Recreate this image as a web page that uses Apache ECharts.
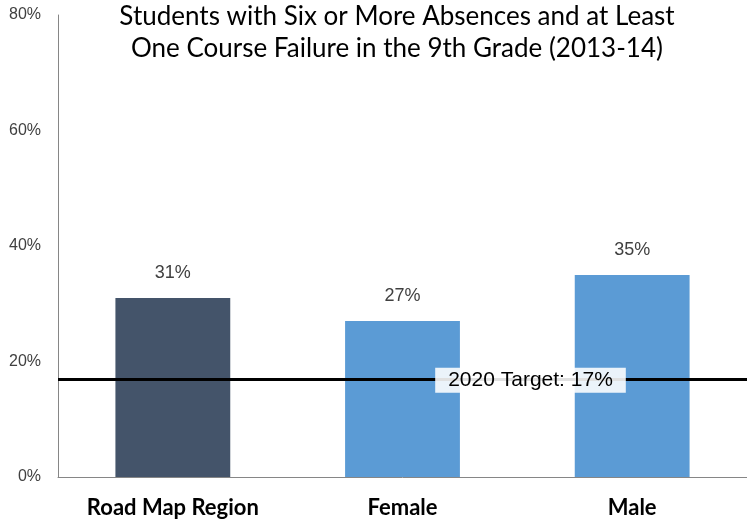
<!DOCTYPE html>
<html>
<head>
<meta charset="utf-8">
<script src="https://cdn.jsdelivr.net/npm/echarts@6/dist/echarts.min.js"></script>
<style>
  html, body { margin: 0; padding: 0; background: #fff; }
  #chart { width: 747px; height: 522px; }
</style>
</head>
<body>
<div id="chart"></div>
<script>
// Share of 9th graders with six or more absences and at least one failed course
const categories = ['Road Map Region', 'Female', 'Male'];
const values = [31, 27, 35];
const barColors = ['#44546A', '#5B9BD5', '#5B9BD5'];
const targetValue = 17;
const targetLabel = '2020 Target: ';
const yTicks = [0, 20, 40, 60, 80];

const chart = echarts.init(document.getElementById('chart'));

chart.setOption({
  animation: false,
  title: {
    text: 'Students with Six or More Absences and at Least\nOne Course Failure in the 9th Grade (2013-14)',
    left: 392,
    textAlign: 'center',
    top: -4,
    textStyle: {
      fontFamily: 'Lato',
      fontWeight: 'normal',
      fontSize: 26,
      lineHeight: 32,
      color: '#000'
    }
  },
  grid: { left: 58, right: 0, top: 15, bottom: 45 },
  xAxis: {
    type: 'category',
    data: categories,
    axisLine: { lineStyle: { color: '#868686', width: 1 } },
    axisTick: { show: false },
    axisLabel: {
      fontFamily: 'Lato',
      fontWeight: 'bold',
      fontSize: 22,
      color: '#000',
      margin: 20
    }
  },
  yAxis: {
    type: 'value',
    min: yTicks[0],
    max: yTicks[yTicks.length - 1],
    interval: yTicks[1] - yTicks[0],
    splitLine: { show: false },
    axisLine: { show: true, lineStyle: { color: '#868686', width: 1 } },
    axisTick: { show: false },
    axisLabel: {
      formatter: '{value}%',
      fontFamily: 'Liberation Sans',
      fontSize: 16,
      color: '#404040',
      margin: 17
    }
  },
  series: [{
    type: 'bar',
    barWidth: '50%',
    data: values.map((v, i) => ({ value: v, itemStyle: { color: barColors[i] } })),
    label: {
      show: true,
      position: 'top',
      distance: 16,
      formatter: '{c}%',
      fontFamily: 'Liberation Sans',
      fontSize: 18,
      color: '#404040'
    },
    markLine: {
      silent: true,
      symbol: ['none', 'none'],
      lineStyle: { color: '#000', width: 3, type: 'solid' },
      label: {
        show: true,
        position: 'middle',
        offset: [128, 19],
        formatter: targetLabel + targetValue + '%',
        fontFamily: 'Liberation Sans',
        fontSize: 21,
        lineHeight: 21,
        color: '#000',
        backgroundColor: 'rgba(255,255,255,0.88)',
        padding: [2, 13, 2, 13]
      },
      data: [{ yAxis: targetValue }]
    }
  }]
});
</script>
</body>
</html>
